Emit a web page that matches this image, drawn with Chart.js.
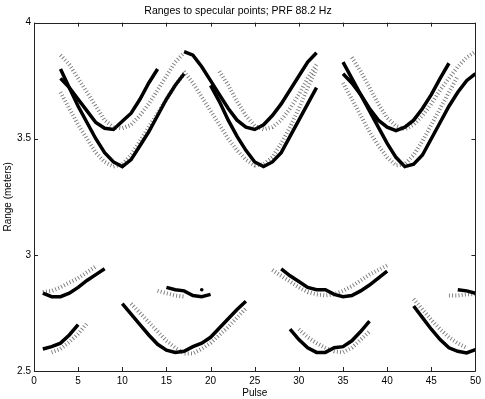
<!DOCTYPE html>
<html>
<head>
<meta charset="utf-8">
<script src="https://cdn.jsdelivr.net/npm/chart.js@4.4.1/dist/chart.umd.min.js"></script>
<style>
  html, body { margin: 0; padding: 0; background: #fff; }
</style>
</head>
<body>
<canvas id="chart" width="485" height="399"></canvas>
<script>
// ticks
const xTickValues = [0, 5, 10, 15, 20, 25, 30, 35, 40, 45, 50];
const yTickValues = [2.5, 3, 3.5, 4];
const yTickLabels = ['2.5', '3', '3.5', '4'];

// upper band, solid (measured ranges), each starts at the pulse given in the table below
const solidA1 = [3.80, 3.72, 3.64, 3.57, 3.50, 3.44, 3.40, 3.38, 3.41, 3.47, 3.53, 3.60, 3.67, 3.73, 3.78];
const solidB1 = [3.76, 3.72, 3.67, 3.62, 3.57, 3.545, 3.54, 3.575, 3.61, 3.67, 3.74, 3.80];
const solidU2 = [3.875, 3.86, 3.81, 3.75, 3.69, 3.63, 3.58, 3.55, 3.54, 3.56, 3.60, 3.65, 3.71, 3.77, 3.83, 3.87];
const solidL2 = [3.73, 3.66, 3.58, 3.51, 3.45, 3.40, 3.38, 3.40, 3.44, 3.51, 3.58, 3.65, 3.72];
const solidC3 = [3.83, 3.76, 3.69, 3.62, 3.55, 3.48, 3.42, 3.38, 3.39, 3.43, 3.50, 3.57, 3.64, 3.70, 3.75, 3.78];
const solidD3 = [3.78, 3.74, 3.69, 3.63, 3.58, 3.55, 3.535, 3.55, 3.58, 3.63, 3.69, 3.76, 3.825];

// upper band, dotted (predicted)
const dotU1 = [3.86, 3.82, 3.76, 3.70, 3.64, 3.58, 3.55, 3.545, 3.56, 3.60, 3.65, 3.71, 3.77, 3.83, 3.87];
const dotL1 = [3.70, 3.63, 3.56, 3.50, 3.44, 3.40, 3.38, 3.39, 3.43, 3.49, 3.55, 3.61, 3.67, 3.73, 3.78];
const dotU2 = [3.79, 3.73, 3.66, 3.60, 3.555, 3.54, 3.55, 3.58, 3.63, 3.69, 3.76, 3.82];
const dotL2 = [3.79, 3.74, 3.68, 3.62, 3.56, 3.50, 3.45, 3.41, 3.385, 3.39, 3.42, 3.48, 3.55, 3.63, 3.72, 3.80];
const dotU3 = [3.85, 3.79, 3.72, 3.65, 3.59, 3.555, 3.54, 3.56, 3.60, 3.65, 3.71, 3.76, 3.81, 3.85, 3.875];
const dotL3 = [3.74, 3.67, 3.60, 3.53, 3.47, 3.42, 3.385, 3.39, 3.43, 3.49, 3.56, 3.63, 3.70, 3.77];

// lower band, solid
const solidE = [2.835, 2.82, 2.82, 2.835, 2.86, 2.89, 2.915, 2.94];
const solidF = [2.595, 2.605, 2.62, 2.655, 2.70];
const solidG = [2.79, 2.745, 2.70, 2.655, 2.615, 2.59, 2.58, 2.585, 2.605, 2.62, 2.645, 2.685, 2.725, 2.765, 2.80];
const solidH = [2.86, 2.85, 2.845, 2.825, 2.82, 2.83];
const solidI = [2.94, 2.91, 2.885, 2.86, 2.85, 2.85, 2.83, 2.82, 2.825, 2.845, 2.87, 2.90, 2.93];
const solidJ = [2.68, 2.635, 2.60, 2.58, 2.58, 2.60, 2.605, 2.63, 2.67, 2.715];
const solidK = [2.78, 2.73, 2.68, 2.635, 2.60, 2.585, 2.578, 2.592];
const solidM = [2.85, 2.845, 2.835];
const singlePoint = [2.85];

// lower band, dotted
const dotE = [2.84, 2.845, 2.86, 2.88, 2.90, 2.925, 2.95];
const dotF = [2.58, 2.595, 2.625, 2.66, 2.705];
const dotG = [2.79, 2.75, 2.71, 2.67, 2.63, 2.60, 2.575, 2.575, 2.595, 2.62, 2.655, 2.69, 2.73, 2.77];
const dotH = [2.845, 2.835, 2.825, 2.82];
const dotI = [2.935, 2.91, 2.885, 2.86, 2.84, 2.83, 2.825, 2.83, 2.845, 2.865, 2.89, 2.915, 2.935, 2.955];
const dotJ = [2.68, 2.645, 2.62, 2.60, 2.585, 2.58, 2.60, 2.635, 2.67];
const dotK = [2.81, 2.765, 2.72, 2.68, 2.645, 2.62, 2.60];
const dotM = [2.825, 2.825, 2.83, 2.83];

// [first pulse, values]
const solidCurves = [
  [3, solidA1], [3, solidB1], [17, solidU2], [20, solidL2], [35, solidC3], [35, solidD3],
  [1, solidE], [1, solidF], [10, solidG], [15, solidH], [28, solidI], [29, solidJ],
  [43, solidK], [48, solidM]
];
const dottedCurves = [
  [3, dotU1], [3, dotL1], [21, dotU2], [17, dotL2], [36, dotU3], [35, dotL3],
  [1, dotE], [2, dotF], [11, dotG], [14, dotH], [27, dotI], [30, dotJ],
  [43, dotK], [47, dotM]
];

const FONT = "'Liberation Sans', Arial, Helvetica, sans-serif";

function toPoints(start, vals) {
  return vals.map((v, i) => ({ x: start + i, y: v }));
}

const datasets = [];
dottedCurves.forEach(([s, v]) => datasets.push({
  data: toPoints(s, v),
  borderColor: 'rgba(30,30,30,0.6)',
  borderWidth: 4,
  borderDash: [0.9, 2.3],
  pointRadius: 0,
  fill: false
}));
solidCurves.forEach(([s, v]) => datasets.push({
  data: toPoints(s, v),
  borderColor: '#000',
  borderWidth: 3.5,
  pointRadius: 0,
  fill: false
}));
datasets.push({
  data: toPoints(19, singlePoint),
  showLine: false,
  pointRadius: 1.8,
  pointBackgroundColor: '#000',
  pointBorderWidth: 0
});

// matlab style box with inward ticks on all four sides
const boxTicks = {
  id: 'boxTicks',
  afterDraw(chart) {
    const { ctx, chartArea: a, scales: { x, y } } = chart;
    const len = 4;
    ctx.save();
    ctx.strokeStyle = '#222';
    ctx.lineWidth = 1;
    ctx.beginPath();
    ctx.rect(Math.round(a.left) + 0.5, Math.round(a.top) + 0.5,
             Math.round(a.right - a.left), Math.round(a.bottom - a.top));
    xTickValues.forEach(v => {
      const px = Math.round(x.getPixelForValue(v)) + 0.5;
      ctx.moveTo(px, a.bottom); ctx.lineTo(px, a.bottom - len);
      ctx.moveTo(px, a.top); ctx.lineTo(px, a.top + len);
    });
    yTickValues.forEach(v => {
      const py = Math.round(y.getPixelForValue(v)) + 0.5;
      ctx.moveTo(a.left, py); ctx.lineTo(a.left + len, py);
      ctx.moveTo(a.right, py); ctx.lineTo(a.right - len, py);
    });
    ctx.stroke();
    ctx.restore();
  }
};

new Chart(document.getElementById('chart'), {
  type: 'line',
  data: { datasets },
  options: {
    responsive: false,
    devicePixelRatio: 1,
    animation: false,
    layout: { padding: { left: 0, right: 9, top: 0, bottom: 0 } },
    plugins: {
      legend: { display: false },
      tooltip: { enabled: false },
      title: {
        display: true,
        text: 'Ranges to specular points; PRF 88.2 Hz',
        color: '#000',
        font: { family: FONT, size: 10.5, weight: 'normal' },
        padding: { top: 5, bottom: 5 }
      }
    },
    elements: { line: { tension: 0 } },
    scales: {
      x: {
        type: 'linear',
        min: 0, max: 50,
        afterBuildTicks: s => { s.ticks = xTickValues.map(v => ({ value: v })); },
        afterFit: s => { s.height = 28; },
        grid: { display: false, drawTicks: false },
        border: { display: false },
        ticks: { color: '#000', padding: 4, maxRotation: 0, font: { family: FONT, size: 10 } },
        title: { display: true, text: 'Pulse', color: '#000', padding: 0, font: { family: FONT, size: 10 } }
      },
      y: {
        type: 'linear',
        min: 2.5, max: 4,
        afterBuildTicks: s => { s.ticks = yTickValues.map(v => ({ value: v })); },
        afterFit: s => { s.width = 34; },
        grid: { display: false, drawTicks: false },
        border: { display: false },
        ticks: {
          color: '#000', padding: 3, font: { family: FONT, size: 10 },
          callback: v => yTickLabels[yTickValues.indexOf(v)]
        },
        title: { display: true, text: 'Range (meters)', color: '#000', padding: 2, font: { family: FONT, size: 10 } }
      }
    }
  },
  plugins: [boxTicks]
});
</script>
</body>
</html>
